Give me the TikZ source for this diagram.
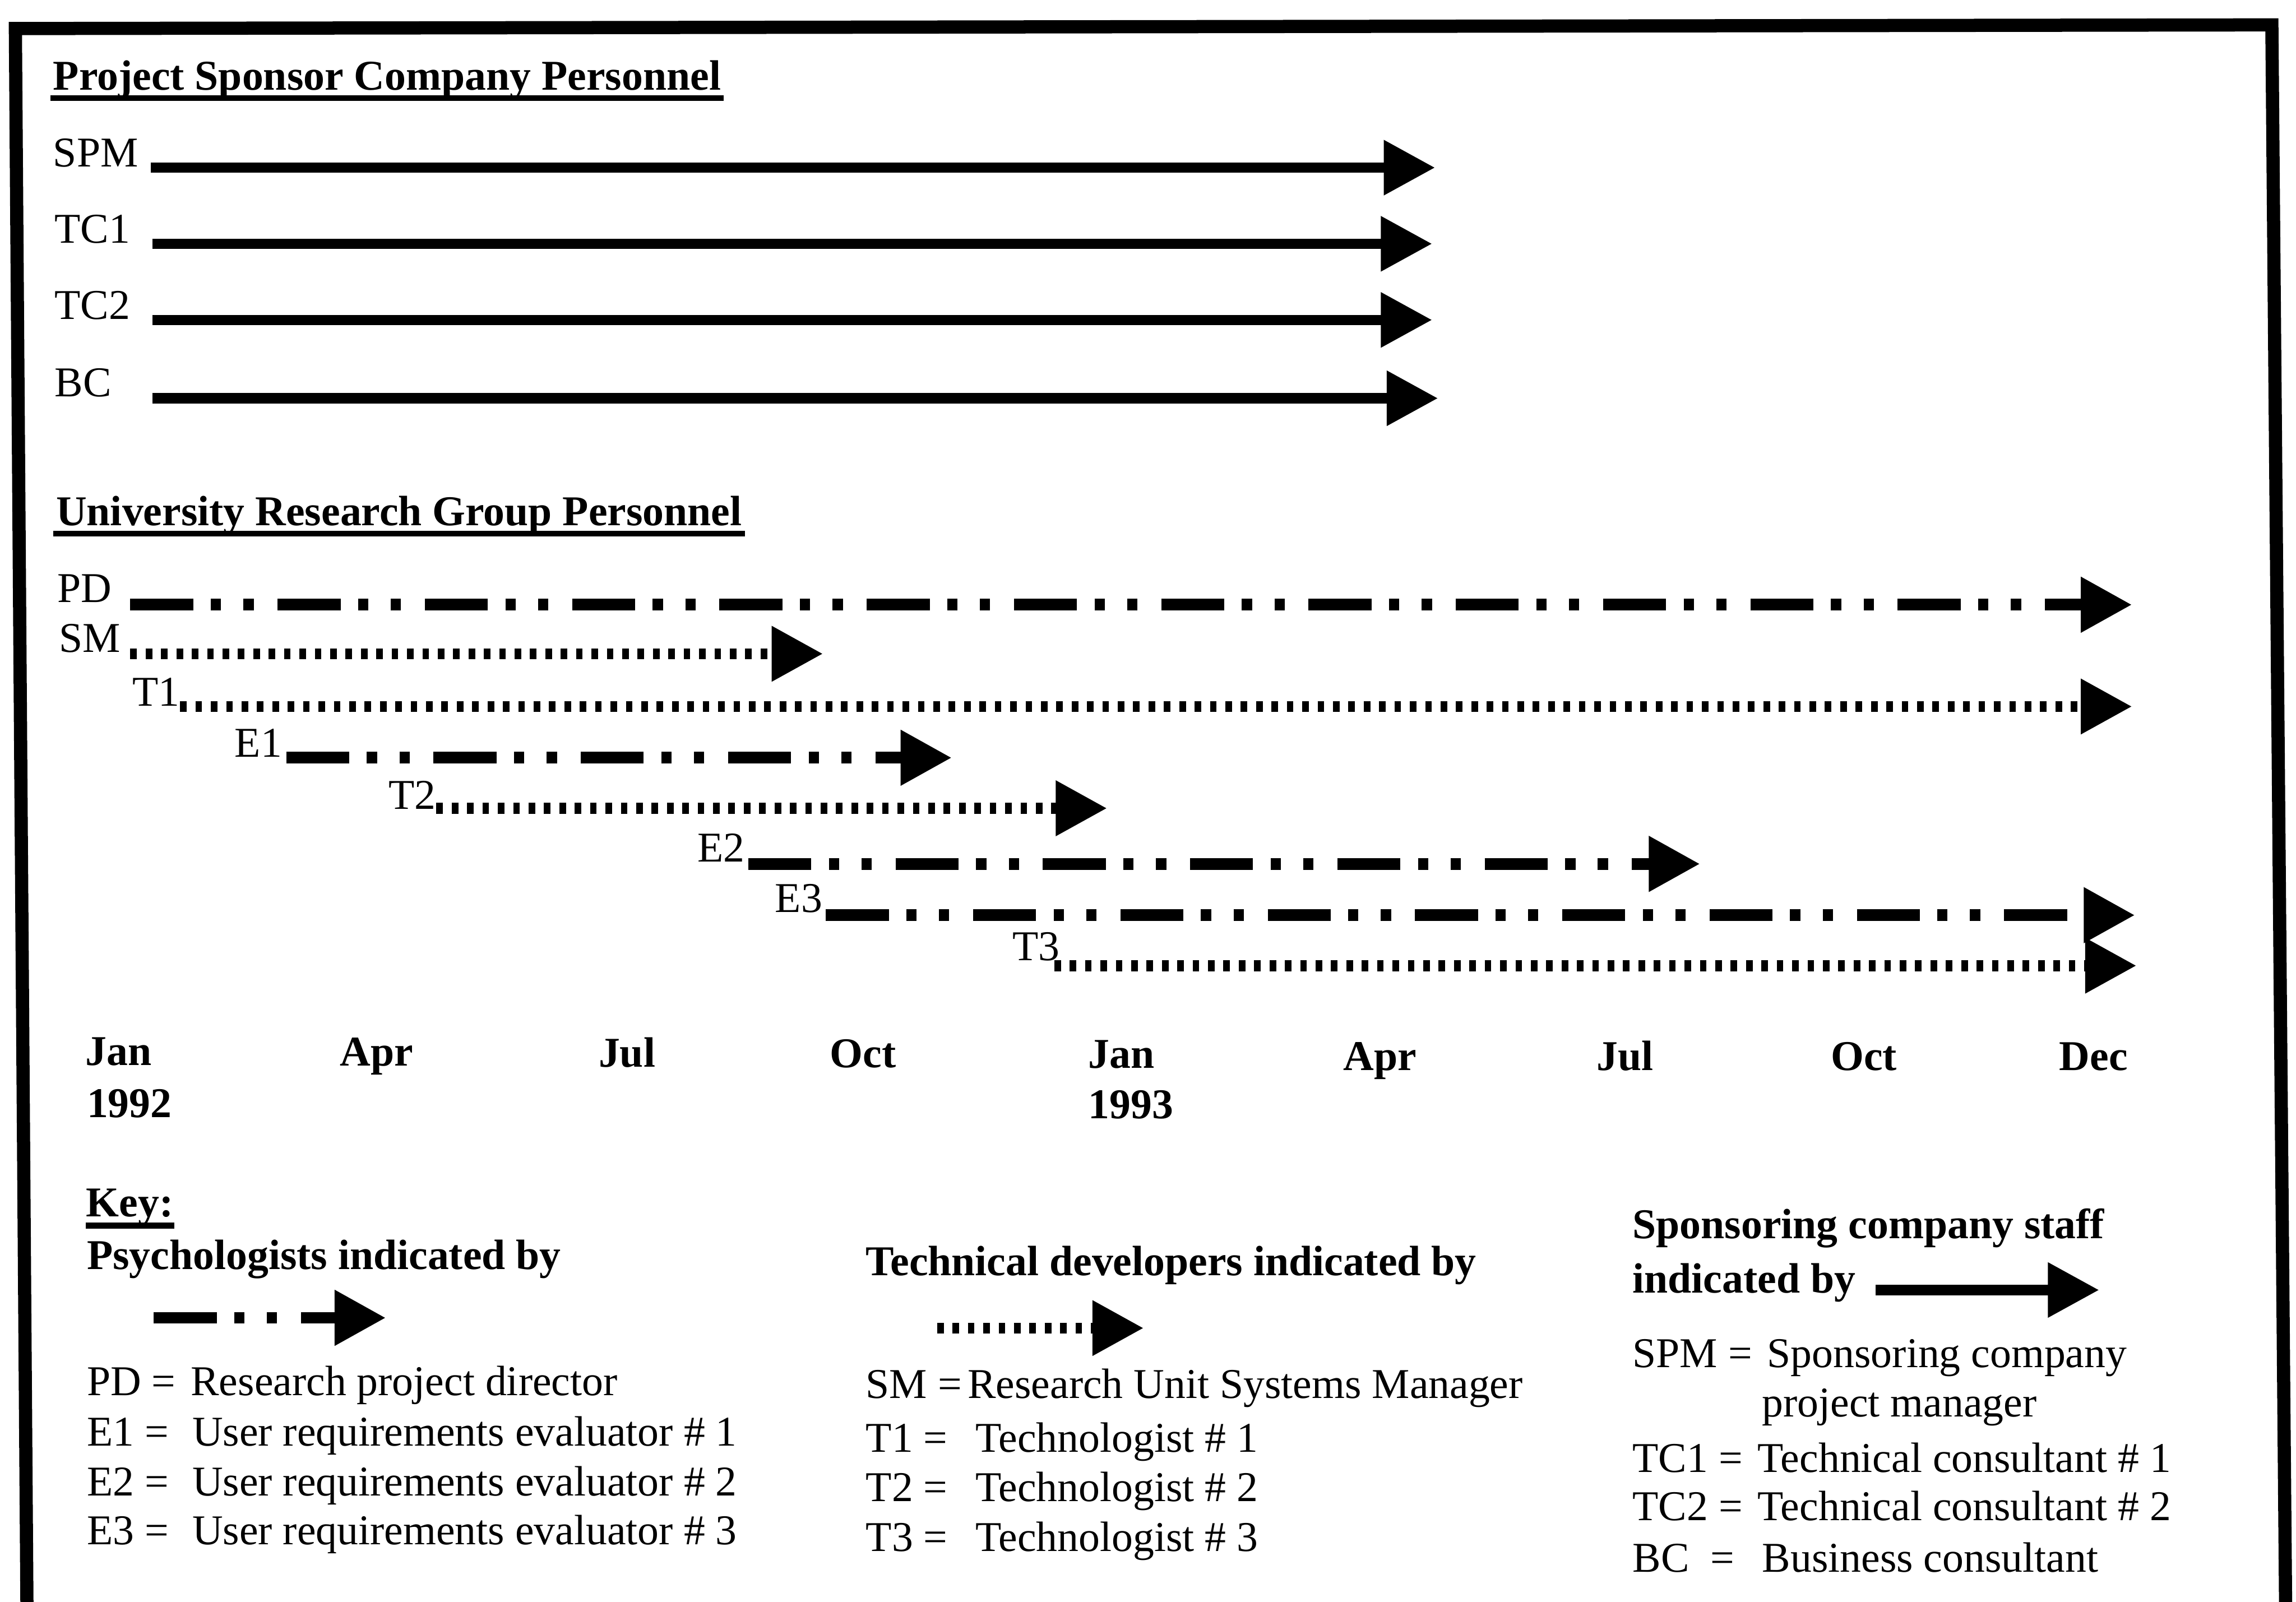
\documentclass[tikz,border=0pt]{standalone}
\usepackage{fontspec}
\setmainfont{Liberation Serif}
\usetikzlibrary{arrows.meta}
\tikzset{
  lbl/.style={inner sep=0pt, anchor=base west, font=\fontsize{16.5}{20}\selectfont},
  blbl/.style={lbl, font=\fontsize{16.5}{20}\selectfont\bfseries},
  uline/.style={line width=0.08cm},
  boxline/.style={line width=0.18cm, line join=miter},
  bighead/.style={-{Triangle[length=0.7cm,width=0.72cm]}},
  staffline/.style={bighead, line width=0.14cm},
  psychline/.style={bighead, line width=0.16cm, dash pattern=on 0.86cm off 0.24cm on 0.14cm off 0.306cm on 0.14cm off 0.326cm},
  techline/.style={bighead, line width=0.15cm, dash pattern=on 0.09cm off 0.12cm}
}
\begin{document}
\begin{tikzpicture}[x=0.02cm, y=-0.02cm]
    \useasboundingbox (0,0) rectangle (1568,1094);
    \draw[boxline] (18.5,1110) -- (10.5,19.5) -- (1551.5,17) -- (1561,1110);

    \node[blbl] (psc) at (36,61.5){Project Sponsor Company Personnel};
    \draw[uline] ([xshift=-0.03cm,yshift=-0.11cm]psc.base west) -- ([xshift=0.03cm,yshift=-0.11cm]psc.base east);
    \node[lbl] (spm) at (36,114){SPM};
    \node[lbl] (tc1) at (37,166){TC1};
    \node[lbl] (tc2) at (37,218){TC2};
    \node[lbl] (bc) at (37,271){BC};
    \coordinate (spm-a) at (103,114.5);   \coordinate (spm-b) at (980,114.5);
    \coordinate (tc1-a) at (104,166.5);   \coordinate (tc1-b) at (978,166.5);
    \coordinate (tc2-a) at (104,218.5);   \coordinate (tc2-b) at (978,218.5);
    \coordinate (bc-a) at (104,272);      \coordinate (bc-b) at (982,272);
    \draw[staffline] (spm-a) -- (spm-b);
    \draw[staffline] (tc1-a) -- (tc1-b);
    \draw[staffline] (tc2-a) -- (tc2-b);
    \draw[staffline] (bc-a) -- (bc-b);

    \node[blbl] (urg) at (38,359){University Research Group Personnel};
    \draw[uline] ([xshift=-0.03cm,yshift=-0.11cm]urg.base west) -- ([xshift=0.03cm,yshift=-0.11cm]urg.base east);
    \node[lbl] (pd) at (39,411.5){PD};
    \node[lbl] (sm) at (40,445.5){SM};
    \node[lbl] (t1) at (90,482){T1};
    \node[lbl] (e1) at (160,517){E1};
    \node[lbl] (t2) at (265,552.5){T2};
    \node[lbl] (e2) at (476,588.5){E2};
    \node[lbl] (e3) at (529,623){E3};
    \node[lbl] (t3) at (691,656){T3};
    \coordinate (pd-a) at (89,413);       \coordinate (pd-b) at (1456,413);
    \coordinate (sm-a) at (89,446.5);     \coordinate (sm-b) at (562,446.5);
    \coordinate (t1-a) at (123,482.5);    \coordinate (t1-b) at (1456,482.5);
    \coordinate (e1-a) at (195.5,517.5);  \coordinate (e1-b) at (650,517.5);
    \coordinate (t2-a) at (298,552);      \coordinate (t2-b) at (756,552);
    \coordinate (e2-a) at (511,590);      \coordinate (e2-b) at (1161,590);
    \coordinate (e3-a) at (564,625);      \coordinate (e3-b) at (1458,625);
    \coordinate (t3-a) at (720,659.5);    \coordinate (t3-b) at (1459,659.5);
    \draw[psychline] (pd-a) -- (pd-b);
    \draw[techline] (sm-a) -- (sm-b);
    \draw[techline] (t1-a) -- (t1-b);
    \draw[psychline] (e1-a) -- (e1-b);
    \draw[techline] (t2-a) -- (t2-b);
    \draw[psychline] (e2-a) -- (e2-b);
    \draw[psychline] (e3-a) -- (e3-b);
    \draw[techline] (t3-a) -- (t3-b);

    \node[blbl] (jan1) at (58,727.5){Jan};
    \node[blbl] (y92) at (59,763){1992};
    \node[blbl] (apr1) at (232,728){Apr};
    \node[blbl] (jul1) at (408.5,728.5){Jul};
    \node[blbl] (oct1) at (566.5,729){Oct};
    \node[blbl] (jan2) at (743,729.3){Jan};
    \node[blbl] (y93) at (743,764){1993};
    \node[blbl] (apr2) at (917,731){Apr};
    \node[blbl] (jul2) at (1090,731){Jul};
    \node[blbl] (oct2) at (1250,731){Oct};
    \node[blbl] (dec2) at (1406,731){Dec};

    \node[blbl] (key) at (58.6,831){Key:};
    \draw[uline] ([yshift=-0.12cm]key.base west) -- ([yshift=-0.12cm]key.base east);
    \node[blbl] (psy) at (59,867){Psychologists indicated by};
    \coordinate (psy-a) at (105,900);     \coordinate (psy-b) at (263.5,900);
    \draw[psychline] (psy-a) -- (psy-b);
    \node[lbl] (kpd) at (59,953){\makebox[1.42cm][l]{PD =}Research project director};
    \node[lbl] (ke1) at (59,987.5){\makebox[1.44cm][l]{E1 =}User requirements evaluator \# 1};
    \node[lbl] (ke2) at (59,1021.5){\makebox[1.44cm][l]{E2 =}User requirements evaluator \# 2};
    \node[lbl] (ke3) at (59,1055){\makebox[1.44cm][l]{E3 =}User requirements evaluator \# 3};

    \node[blbl] (tech) at (591,871){Technical developers indicated by};
    \coordinate (tech-a) at (640,907);    \coordinate (tech-b) at (781,907);
    \draw[techline] (tech-a) -- (tech-b);
    \node[lbl] (ksm) at (591,955){\makebox[1.39cm][l]{SM =}Research Unit Systems Manager};
    \node[lbl] (kt1) at (591,991.5){\makebox[1.5cm][l]{T1 =}Technologist \# 1};
    \node[lbl] (kt2) at (591,1025.5){\makebox[1.5cm][l]{T2 =}Technologist \# 2};
    \node[lbl] (kt3) at (591,1059.5){\makebox[1.5cm][l]{T3 =}Technologist \# 3};

    \node[blbl] (spo) at (1114.6,846){Sponsoring company staff};
    \node[blbl] (spo2) at (1114.6,883){indicated by};
    \coordinate (spo-a) at (1281,881);    \coordinate (spo-b) at (1433.5,881);
    \draw[staffline] (spo-a) -- (spo-b);
    \node[lbl] (kspm) at (1114.6,934){\makebox[1.84cm][l]{SPM =}Sponsoring company};
    \node[lbl] (kspm2) at (1203,967.5){project manager};
    \node[lbl] (ktc1) at (1114.6,1005.5){\makebox[1.71cm][l]{TC1 =}Technical consultant \# 1};
    \node[lbl] (ktc2) at (1114.6,1038.5){\makebox[1.71cm][l]{TC2 =}Technical consultant \# 2};
    \node[lbl] (kbc) at (1114.6,1073.5){\makebox[1.77cm][l]{BC\ \ =}Business consultant};
\end{tikzpicture}
\end{document}
